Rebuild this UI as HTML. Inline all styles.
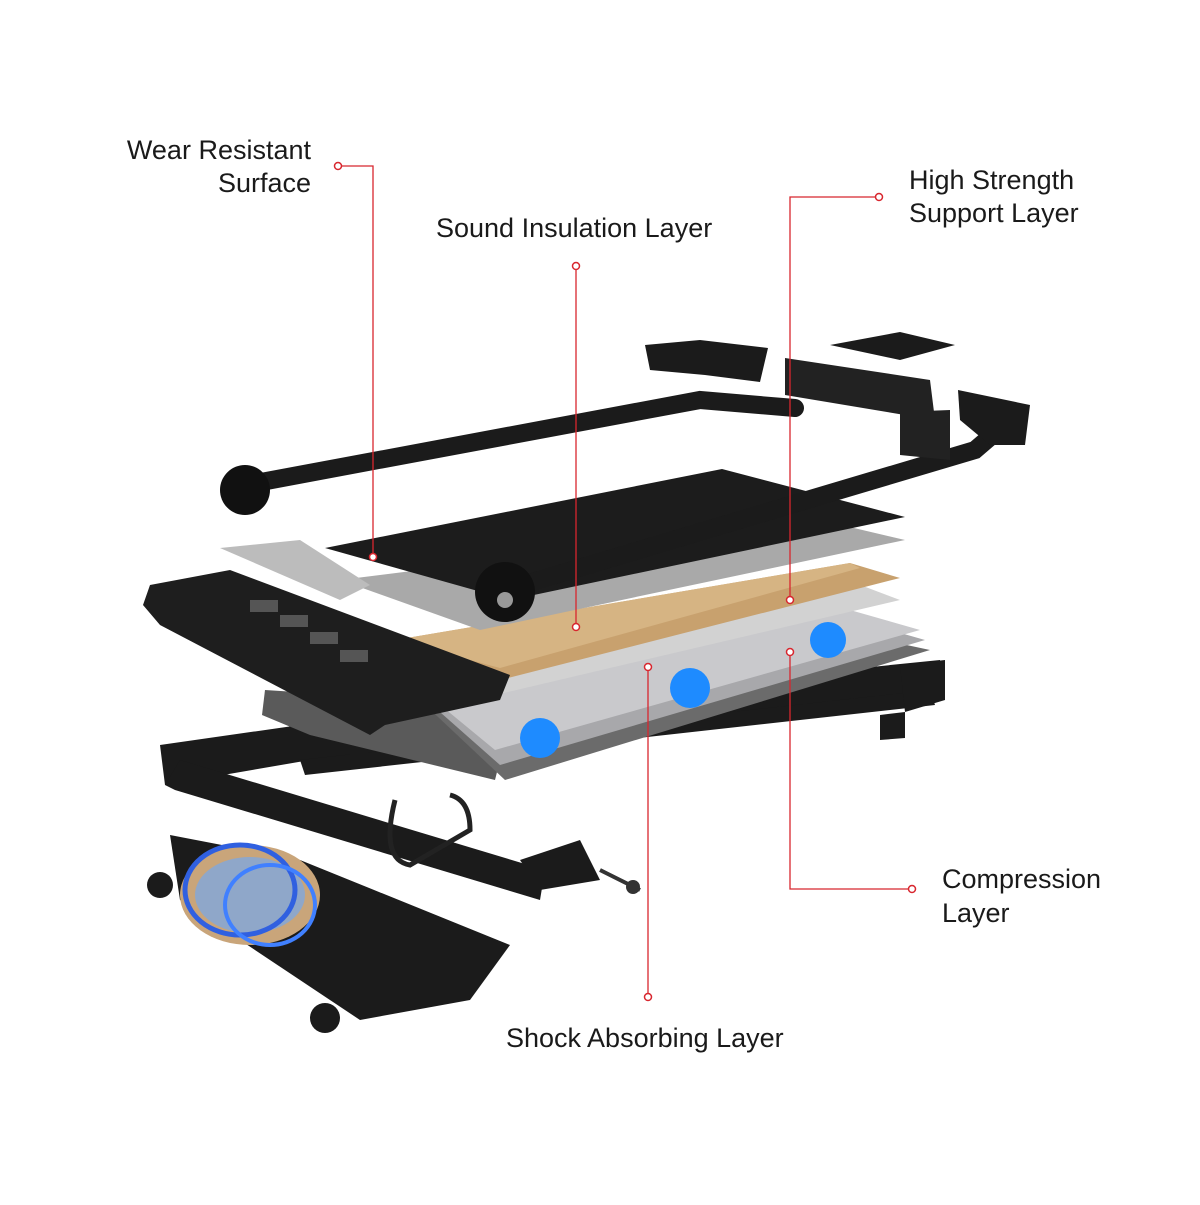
<!DOCTYPE html>
<html><head><meta charset="utf-8"><style>
html,body{margin:0;padding:0;background:#fff;}
.t{font-family:"Liberation Sans",sans-serif;font-size:27px;fill:#1a1a1a;}
</style></head><body>
<svg width="1200" height="1200" viewBox="0 0 1200 1200" xmlns="http://www.w3.org/2000/svg">
<rect width="1200" height="1200" fill="#fff"/>
<!-- lower frame -->
<g fill="#1b1b1b">
<polygon points="160,745 300,725 940,660 945,690 310,760 165,785"/>
<polygon points="165,785 175,790 540,900 545,870 180,760"/>
<polygon points="300,760 930,690 935,705 305,775"/>
<polygon points="520,860 580,840 600,880 540,890"/>
<polygon points="900,665 945,660 945,700 905,712"/>
<polygon points="880,715 905,712 905,738 880,740"/>
<polygon points="170,835 300,860 510,945 470,1000 360,1020 180,900"/>
<circle cx="160" cy="885" r="13"/>
<circle cx="325" cy="1018" r="15"/>
</g>
<line x1="600" y1="870" x2="640" y2="890" stroke="#333" stroke-width="4"/>
<circle cx="633" cy="887" r="7" fill="#333"/>
<path d="M395,800 Q380,860 410,865 L470,830 Q470,800 450,795" fill="none" stroke="#222" stroke-width="5"/>
<!-- motor -->
<ellipse cx="250" cy="895" rx="70" ry="50" fill="#c9a57a"/>
<ellipse cx="250" cy="895" rx="55" ry="38" fill="#8fa7c9"/>
<ellipse cx="240" cy="890" rx="55" ry="45" fill="none" stroke="#3060e0" stroke-width="5"/>
<ellipse cx="270" cy="905" rx="45" ry="40" fill="none" stroke="#4080ff" stroke-width="4"/>
<!-- belt underside -->
<polygon points="265,690 420,700 500,760 495,780 310,735 262,715" fill="#5a5a5a"/>
<!-- deck layers -->
<polygon points="420,700 860,635 930,650 505,780" fill="#6b6b6b"/>
<polygon points="415,690 855,620 925,640 500,765" fill="#a8a8ab"/>
<polygon points="410,680 850,610 920,630 495,750" fill="#c9c9cc"/>
<circle cx="540" cy="738" r="20" fill="#1e8bff"/>
<circle cx="690" cy="688" r="20" fill="#1e8bff"/>
<circle cx="828" cy="640" r="18" fill="#1e8bff"/>
<polygon points="400,655 855,583 900,600 495,695" fill="#d2d2d2"/>
<polygon points="395,640 850,563 900,578 500,680" fill="#c8a16e"/>
<polygon points="395,640 850,563 860,568 500,668" fill="#d6b483"/>
<polygon points="340,580 820,520 905,540 480,630" fill="#a9a9a9"/>
<polygon points="325,548 722,469 905,517 510,600" fill="#1c1c1c"/>
<!-- console -->
<polygon points="150,585 230,570 510,675 500,700 385,725 370,735 160,625 143,605" fill="#1e1e1e"/>
<polygon points="220,548 300,540 370,585 340,600" fill="#bcbcbc"/>
<g fill="#555"><rect x="250" y="600" width="28" height="12"/><rect x="280" y="615" width="28" height="12"/><rect x="310" y="632" width="28" height="12"/><rect x="340" y="650" width="28" height="12"/></g>
<!-- handle bar -->
<g fill="none" stroke="#1b1b1b" stroke-width="18" stroke-linecap="round">
<path d="M245,485 L700,400 L795,408"/>
<path d="M505,590 L975,450 L1010,420"/>
</g>
<circle cx="245" cy="490" r="25" fill="#111"/>
<circle cx="505" cy="592" r="30" fill="#111"/>
<circle cx="505" cy="600" r="8" fill="#999"/>
<polygon points="645,345 700,340 768,348 760,382 705,375 650,370" fill="#1b1b1b"/>
<polygon points="958,390 1030,405 1025,445 990,445 960,420" fill="#1b1b1b"/>
<polygon points="785,358 930,380 935,420 785,395" fill="#222"/>
<polygon points="830,345 900,332 955,345 900,360" fill="#1b1b1b"/>
<polygon points="900,412 950,410 950,460 900,455" fill="#222"/>
<!-- red connectors -->
<g fill="none" stroke="#d8262e" stroke-width="1.3">
<path d="M338,166 L373,166 L373,557"/>
<path d="M576,266 L576,627"/>
<path d="M879,197 L790,197 L790,600"/>
<path d="M912,889 L790,889 L790,652"/>
<path d="M648,997 L648,667"/>
</g>
<g fill="#fff" stroke="#d8262e" stroke-width="1.5">
<circle cx="338" cy="166" r="3.5"/><circle cx="576" cy="266" r="3.5"/><circle cx="879" cy="197" r="3.5"/><circle cx="912" cy="889" r="3.5"/><circle cx="648" cy="997" r="3.5"/>
<circle cx="373" cy="557" r="3.5"/><circle cx="576" cy="627" r="3.5"/><circle cx="790" cy="600" r="3.5"/><circle cx="790" cy="652" r="3.5"/><circle cx="648" cy="667" r="3.5"/>
</g>
<text class="t" x="311" y="159" text-anchor="end">Wear Resistant</text>
<text class="t" x="311" y="192" text-anchor="end">Surface</text>
<text class="t" x="436" y="237">Sound Insulation Layer</text>
<text class="t" x="909" y="189">High Strength</text>
<text class="t" x="909" y="222">Support Layer</text>
<text class="t" x="942" y="888">Compression</text>
<text class="t" x="942" y="922">Layer</text>
<text class="t" x="506" y="1047">Shock Absorbing Layer</text>
</svg>
</body></html>
